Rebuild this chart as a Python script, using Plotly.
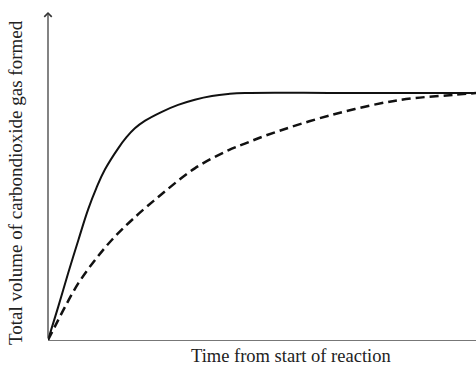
import plotly.graph_objects as go

# Time (arbitrary units, 0-100) and total volume (arbitrary units, plateau = 100)
fast_time = [0, 2.4, 4.7, 7.1, 9.4, 11.3, 13.3, 16.4, 18.3, 20.3, 22.7, 26.6, 30.4, 34.3, 38.3, 42.1, 46.0, 70, 100]
fast_volume = [0, 13.5, 27.0, 40.5, 53.0, 61.5, 69.0, 77.6, 82.0, 85.7, 88.8, 92.4, 95.2, 97.3, 98.8, 99.6, 100, 100, 100]

slow_time = [0, 1.6, 4.0, 7.1, 11.0, 14.9, 19.6, 26.6, 34.3, 42.1, 46.0, 51.2, 66.6, 82.2, 94.6, 100]
slow_volume = [0, 5.4, 13.5, 23.0, 32.4, 40.5, 48.6, 59.1, 69.5, 76.8, 79.5, 83.0, 91.3, 97.2, 99.2, 100]

x_title = "Time from start of reaction"
y_title = "Total volume of carbondioxide gas formed"

Y_TOP = 132.8

fig = go.Figure()
fig.add_trace(go.Scatter(x=fast_time, y=fast_volume, mode="lines",
                         line=dict(color="#111111", width=2, shape="spline", smoothing=1.2),
                         hoverinfo="skip", showlegend=False))
fig.add_trace(go.Scatter(x=slow_time, y=slow_volume, mode="lines",
                         line=dict(color="#111111", width=2.5, dash="9px,5px", shape="spline", smoothing=1),
                         hoverinfo="skip", showlegend=False))

fig.update_layout(
    width=476, height=366,
    margin=dict(l=48, r=0, t=12, b=26, autoexpand=False),
    paper_bgcolor="white", plot_bgcolor="white",
    xaxis=dict(range=[0, 100], showgrid=False, zeroline=False, showticklabels=False,
               ticks="", showline=True, linecolor="#777777", linewidth=1.3, fixedrange=True),
    yaxis=dict(range=[0, Y_TOP], showgrid=False, zeroline=False, showticklabels=False,
               ticks="", showline=False, fixedrange=True),
    annotations=[
        dict(x=0, y=Y_TOP, ax=0, ay=0, xref="x", yref="y", axref="x", ayref="y",
             showarrow=True, arrowhead=4, arrowsize=1.2, arrowwidth=1.2, arrowcolor="#333333", text=""),
        dict(x=(291 - 48) / 428, y=0, xref="paper", yref="paper", yanchor="middle", yshift=-16,
             showarrow=False, text=x_title,
             font=dict(family="Liberation Serif", size=18.5, color="#222222")),
        dict(x=(15 - 48) / 428, y=(340 - 183) / 328, xref="paper", yref="paper",
             xanchor="center", yanchor="middle", showarrow=False,
             text=y_title, textangle=-90,
             font=dict(family="Liberation Serif", size=19, color="#222222")),
    ],
)

fig.write_html("out.html", config={"displayModeBar": False},
               post_script="document.body.style.margin='0';document.body.style.overflow='hidden';")
